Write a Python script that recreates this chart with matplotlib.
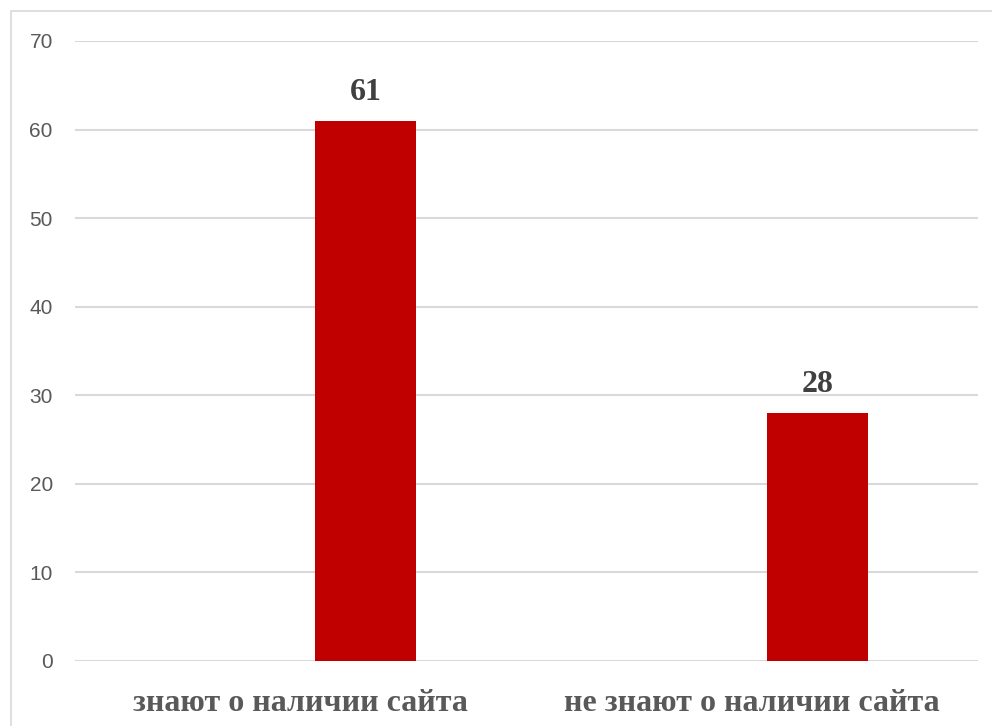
import matplotlib
matplotlib.use('Agg')
import matplotlib.pyplot as plt
from matplotlib.patches import Rectangle

categories = ['знают о наличии сайта', 'не знают о наличии сайта']
values = [61, 28]
y_ticks = [0, 10, 20, 30, 40, 50, 60, 70]

bar_color = '#C00000'
grid_color = '#D9D9D9'
# bars sit a bit right of the category centre (Excel cluster offset)
bar_shift = 0.144
bar_width = 0.223

fig = plt.figure(figsize=(9.92, 7.26), dpi=100)
ax = fig.add_axes([75 / 992, 1 - 661 / 726, 903 / 992, 620 / 726])

x = list(range(len(categories)))
xb = [i + bar_shift for i in x]
bars = ax.bar(xb, values, width=bar_width, color=bar_color, zorder=3)

for rect, v in zip(bars, values):
    ax.annotate(str(v), (rect.get_x() + rect.get_width() / 2, v),
                xytext=(0, 10), textcoords='offset points',
                ha='center', va='bottom', fontsize=23, fontweight='bold',
                family='Liberation Serif', color='#404040')

ax.set_xlim(-0.5, 1.5)
ax.set_ylim(0, 70)
ax.set_yticks(y_ticks)
ax.set_xticks(x)
ax.set_xticklabels(categories, family='Liberation Serif', fontweight='bold',
                   fontsize=23, color='#595959')
for lab in ax.get_yticklabels():
    lab.set_family('Liberation Sans')
    lab.set_fontsize(15)
    lab.set_color('#595959')

ax.tick_params(axis='y', length=0, pad=16)
ax.tick_params(axis='x', length=0, pad=20)
ax.yaxis.grid(True, color=grid_color, linewidth=1.5, zorder=0)
ax.set_axisbelow(True)
for s in ax.spines.values():
    s.set_visible(False)

# thin chart-area border (top and left visible)
fig.patches.append(Rectangle((10.5 / 992, -0.1), 1.2, 1 - 11.5 / 726 + 0.1,
                             transform=fig.transFigure, fill=False,
                             edgecolor='#D9D9D9', linewidth=1.2))

fig.savefig('out.png', dpi=100)
